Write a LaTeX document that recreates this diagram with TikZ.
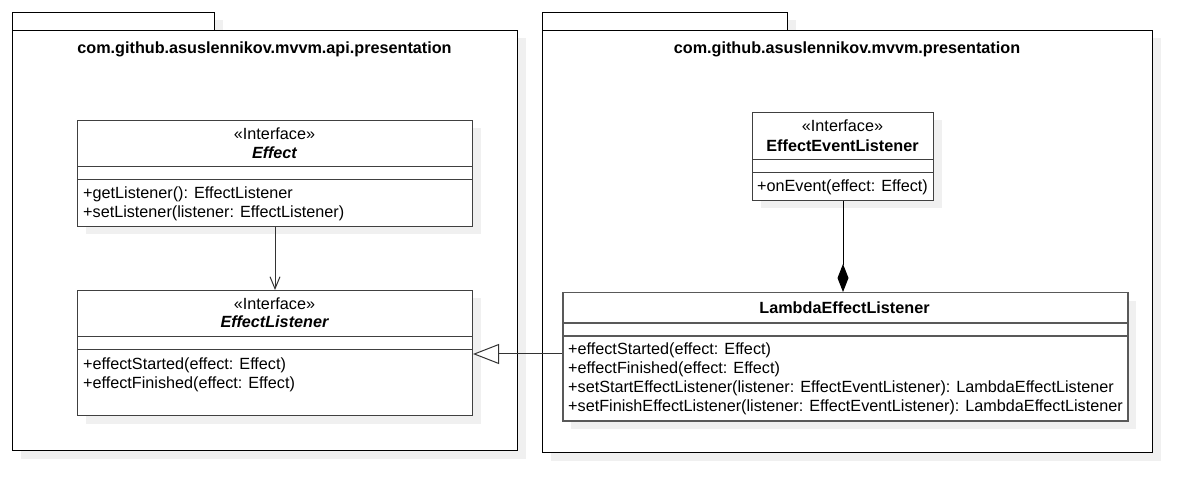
\documentclass[tikz,border=0pt]{standalone}
\usepackage{fontspec}
\setmainfont{Liberation Sans}
\usetikzlibrary{arrows.meta,shadows}

\tikzset{
  umlshadow/.style={drop shadow={shadow xshift=8pt,shadow yshift=-8pt,fill=black!6,opacity=1}},
  pkgbox/.style={draw=black,line width=1pt,fill=white,anchor=north west,inner sep=0pt,umlshadow},
  classbox/.style={draw=black!75,line width=1pt,fill=white,anchor=north west,inner sep=0pt,umlshadow},
  sep/.style={draw=black!75,line width=1pt},
  txt/.style={inner sep=0pt,text height=11.5pt,text depth=0pt,font=\fontsize{16.2}{19}\selectfont},
  title/.style={txt,font=\fontsize{16.2}{19}\selectfont\bfseries},
  member/.style={txt,anchor=west},
}

\begin{document}
\begin{tikzpicture}[x=1pt,y=-1pt]
\useasboundingbox (0,0) rectangle (1202,502);
% packages
\node[pkgbox,minimum width=202pt,minimum height=18pt] (apitab) at (12,12) {};
\node[pkgbox,minimum width=505pt,minimum height=420pt] (apipkg) at (12,30) {};
\node[title] (apiname) at (264.5,48) {com.github.asuslennikov.mvvm.api.presentation};
\node[pkgbox,minimum width=245pt,minimum height=18pt] (mvvmtab) at (542,12) {};
\node[pkgbox,minimum width=610pt,minimum height=422pt] (mvvmpkg) at (542,30) {};
\node[title] (mvvmname) at (847,48) {com.github.asuslennikov.mvvm.presentation};

% Effect
\node[classbox,minimum width=395pt,minimum height=106pt] (effect) at (77,120) {};
\foreach \y in {167,180}
\draw[sep] (effect.west |- 0,\y) -- (effect.east |- 0,\y);
\node[txt] (effectst) at (274.5,134) {«Interface»};
\node[title,font=\fontsize{16.2}{19}\selectfont\bfseries\itshape] (effectname) at (274.5,153) {Effect};
\node[member] (effectm1) at (83,193) {+getListener(): EffectListener};
\node[member] (effectm2) at (83,212) {+setListener(listener: EffectListener)};

% EffectListener
\node[classbox,minimum width=395pt,minimum height=125pt] (effectlistener) at (77,290) {};
\foreach \y in {337,350}
\draw[sep] (effectlistener.west |- 0,\y) -- (effectlistener.east |- 0,\y);
\node[txt] (listenerst) at (274.5,304) {«Interface»};
\node[title,font=\fontsize{16.2}{19}\selectfont\bfseries\itshape] (listenername) at (274.5,322) {EffectListener};
\node[member] (listenerm1) at (83,364) {+effectStarted(effect: Effect)};
\node[member] (listenerm2) at (83,383) {+effectFinished(effect: Effect)};

% EffectEventListener
\node[classbox,minimum width=181pt,minimum height=88pt] (eventlistener) at (752,112) {};
\foreach \y in {160,173}
\draw[sep] (eventlistener.west |- 0,\y) -- (eventlistener.east |- 0,\y);
\node[txt] (eventst) at (842.5,126) {«Interface»};
\node[title] (eventname) at (842.5,145.5) {EffectEventListener};
\node[member] (eventm1) at (757,186) {+onEvent(effect: Effect)};

% LambdaEffectListener
\node[classbox,draw=black!65,line width=1.5pt,minimum width=565pt,minimum height=128pt] (lambda) at (562,292) {};
\foreach \y in {323,336}
\draw[sep,draw=black!65,line width=1.5pt] (lambda.west |- 0,\y) -- (lambda.east |- 0,\y);
\node[title] (lambdaname) at (844.5,308) {LambdaEffectListener};
\foreach \y/\m in {349/{+effectStarted(effect: Effect)},
                   368/{+effectFinished(effect: Effect)},
                   387/{+setStartEffectListener(listener: EffectEventListener): LambdaEffectListener},
                   406/{+setFinishEffectListener(listener: EffectEventListener): LambdaEffectListener}}
\node[member] at (568,\y) {\m};

% relations
\draw[line width=1pt,black!80,-{Straight Barb[length=12pt,width=10pt]}] (effect.south) -- (effectlistener.north);
\draw[line width=1pt,black!80,-{Triangle[open,length=26pt,width=20pt,fill=white]}] (lambda.west |- 0,354) -- (effectlistener.east |- 0,354);
\draw[line width=1pt,black,-{Diamond[length=28pt,width=11pt]}] (eventlistener.south) -- (eventlistener.south |- lambda.north);
\end{tikzpicture}
\end{document}
